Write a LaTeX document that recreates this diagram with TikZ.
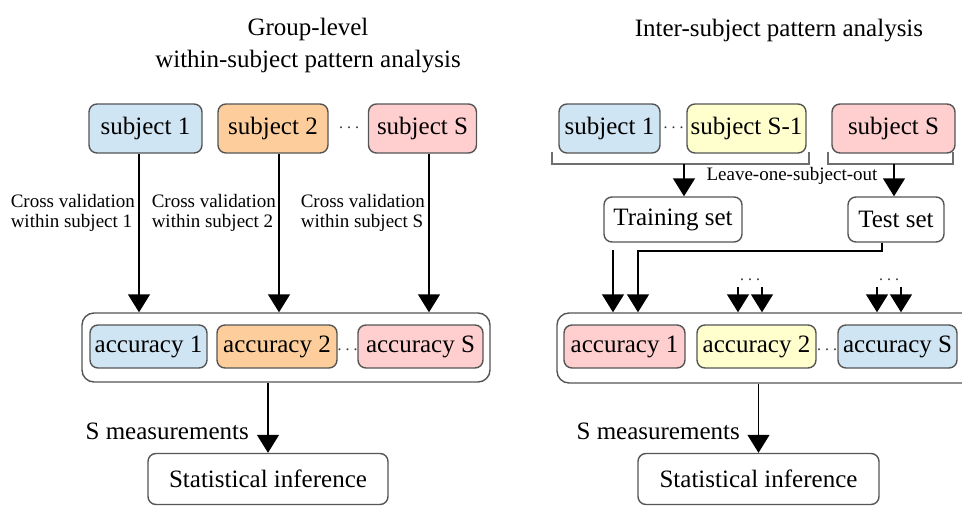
\documentclass[tikz,border=0pt]{standalone}
\usepackage{fontspec}
\setmainfont{Liberation Serif}
\usetikzlibrary{arrows.meta}
\definecolor{cblue}{RGB}{207,229,243}
\definecolor{corange}{RGB}{253,206,156}
\definecolor{cpink}{RGB}{255,206,206}
\definecolor{cyellow}{RGB}{255,255,206}
\definecolor{cborder}{RGB}{85,85,85}
\newcommand{\sdots}{\hbox{.\hspace{4pt}.\hspace{4pt}.}}
\tikzset{
  box/.style={draw=cborder, line width=1.4pt, rounded corners=8pt, inner sep=0pt, font=\fontsize{25}{29}\selectfont},
  outerbox/.style={draw=cborder, line width=1.4pt, rounded corners=12pt, inner sep=0pt},
  arr/.style={line width=1.4pt, -{Triangle[width=22pt,length=18pt]}},
  lbl/.style={font=\fontsize{19}{20}\selectfont, align=left, inner sep=0pt},
  big/.style={font=\fontsize{25}{32}\selectfont, inner sep=0pt, align=center},
  dotsnode/.style={font=\fontsize{16}{18}\selectfont, inner sep=0pt, text=black!80},
  brk/.style={draw=cborder!85, line width=1.4pt},
}
\begin{document}
\begin{tikzpicture}[x=1pt,y=-1pt]
\useasboundingbox (0,0) rectangle (962,506);
\clip (0,0) rectangle (962,506);

% ---------------- Left panel ----------------
\node[big] (titleL) at (308,46) {Group-level\\within-subject pattern analysis};

\node[box, fill=cblue,   minimum width=113pt, minimum height=49pt] (s1L) at (145.5,128.5) {subject 1};
\node[box, fill=corange, minimum width=110pt, minimum height=49pt] (s2L) at (273,128.5) {subject 2};
\node[box, fill=cpink,   minimum width=108pt, minimum height=49pt] (sSL) at (422.5,128.5) {subject S};
\node[dotsnode] (d1L) at (349,128) {\sdots};

\node[outerbox, minimum width=408pt, minimum height=69pt] (outL) at (286,347.5) {};
\node[box, fill=cblue,   minimum width=117pt, minimum height=43pt] (a1L) at (148.5,346.5) {accuracy 1};
\node[box, fill=corange, minimum width=120pt, minimum height=43pt] (a2L) at (277,346.5) {accuracy 2};
\node[box, fill=cpink,   minimum width=125pt, minimum height=43pt] (aSL) at (420.5,346.5) {accuracy S};
\node[dotsnode] (d2L) at (347.5,350) {\sdots};

\node[box, minimum width=240pt, minimum height=51pt] (stL) at (268,479) {Statistical inference};

\coordinate (c1L) at ([xshift=-6.5pt]s1L.south);
\coordinate (c2L) at ([xshift=6pt]s2L.south);
\coordinate (c3L) at ([xshift=6.5pt]sSL.south);
\draw[arr] (c1L) -- (c1L |- outL.north);
\draw[arr] (c2L) -- (c2L |- outL.north);
\draw[arr] (c3L) -- (c3L |- outL.north);

\node[lbl, anchor=east] (l1L) at (135,213) {Cross validation\\within subject 1};
\node[lbl, anchor=east] (l2L) at (276,213) {Cross validation\\within subject 2};
\node[lbl, anchor=east] (l3L) at (425,213) {Cross validation\\within subject S};

\draw[arr] (stL.north |- outL.south) -- (stL.north);
\node[big, anchor=east] (mL) at (249,431) {S measurements};

% ---------------- Right panel ----------------
\node[big] (titleR) at (779,31) {Inter-subject pattern analysis};

\node[box, fill=cblue,   minimum width=101pt, minimum height=49pt] (s1R) at (609.5,128.5) {subject 1};
\node[box, fill=cyellow, minimum width=119pt, minimum height=49pt] (s2R) at (746.5,128.5) {subject S-1};
\node[box, fill=cpink,   minimum width=123pt, minimum height=49pt] (sSR) at (893.5,128.5) {subject S};
\node[dotsnode] (d1R) at (673.5,128) {\sdots};

% brackets
\draw[brk] (552,152) -- (552,164) coordinate (b1a) -- (809,164) coordinate (b1b) -- (809,152);
\draw[brk] (828,152) -- (828,164) coordinate (b2a) -- (953,164) coordinate (b2b) -- (953,152);
\coordinate (b1m) at (684,164);
\coordinate (b2m) at (894,164);

\node[box, minimum width=138pt, minimum height=45pt] (trR) at (673,219.5) {Training set};
\node[box, minimum width=96pt,  minimum height=45pt] (teR) at (896,219.5) {Test set};

\draw[arr] (b1m) -- (b1m |- trR.north);
\draw[arr] (b2m) -- (b2m |- teR.north);
\node[lbl] (loso) at (792,176) {Leave-one-subject-out};

\node[outerbox, minimum width=425pt, minimum height=70pt] (outR) at (769.5,348) {};
\node[box, fill=cpink,   minimum width=121pt, minimum height=43pt] (a1R) at (624.5,346.5) {accuracy 1};
\node[box, fill=cyellow, minimum width=119pt, minimum height=43pt] (a2R) at (756.5,346.5) {accuracy 2};
\node[box, fill=cblue,   minimum width=119pt, minimum height=43pt] (aSR) at (897.5,346.5) {accuracy S};
\node[dotsnode] (d2R) at (827,350) {\sdots};

% training / test arrows into accuracy box
\coordinate (tr1) at (613,250);
\draw[arr] (tr1) -- (tr1 |- outR.north);
\coordinate (te0) at ([xshift=-14pt]teR.south);
\coordinate (te1) at (638,251);
\draw[arr] (te0) -- (te0 |- te1) -- (te1) -- (te1 |- outR.north);

\coordinate (p1) at (738,287);
\coordinate (p2) at (762,287);
\coordinate (p3) at (877,287);
\coordinate (p4) at (901,287);
\draw[arr] (p1) -- (p1 |- outR.north);
\draw[arr] (p2) -- (p2 |- outR.north);
\draw[arr] (p3) -- (p3 |- outR.north);
\draw[arr] (p4) -- (p4 |- outR.north);
\node[dotsnode] (d3R) at (750,280) {\sdots};
\node[dotsnode] (d4R) at (889,280) {\sdots};

\node[box, minimum width=241pt, minimum height=51pt] (stR) at (758.5,479) {Statistical inference};
\draw[arr] (stR.north |- outR.south) -- (stR.north);
\node[big, anchor=east] (mR) at (740,431) {S measurements};
\end{tikzpicture}
\end{document}
